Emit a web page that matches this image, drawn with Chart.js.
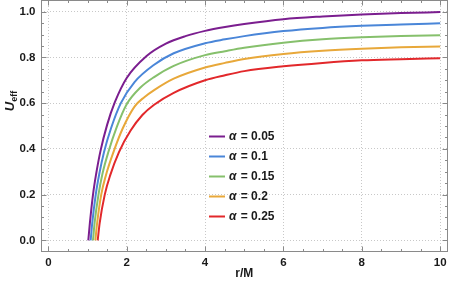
<!DOCTYPE html>
<html><head><meta charset="utf-8">
<script src="https://cdn.jsdelivr.net/npm/chart.js@4/dist/chart.umd.min.js"></script>
<style>html,body{margin:0;padding:0;background:#fff}</style>
</head><body>
<canvas id="c" width="449" height="290"></canvas>
<script>
// ---- data ----
const alphaLabels = ['0.05', '0.1', '0.15', '0.2', '0.25'];

const rA = [1.02, 1.06, 1.14, 1.22, 1.33, 1.5, 1.7, 2.0, 2.5, 3.0, 3.5, 4.0, 4.51, 5, 6, 7, 8, 9, 10];
const uA = [0, 0.075, 0.2, 0.29, 0.39, 0.505, 0.605, 0.71, 0.805, 0.86, 0.893, 0.916, 0.933, 0.946, 0.967, 0.979, 0.988, 0.994, 0.998];

const rB = [1.08, 1.12, 1.21, 1.3, 1.42, 1.6, 1.85, 2.2, 2.7, 3.2, 4.0, 4.51, 5, 6, 7, 8, 9, 10];
const uB = [0, 0.075, 0.2, 0.29, 0.385, 0.49, 0.6, 0.692, 0.768, 0.818, 0.862, 0.879, 0.893, 0.915, 0.929, 0.938, 0.944, 0.949];

const rC = [1.14, 1.18, 1.28, 1.38, 1.53, 1.75, 2.0, 2.35, 2.7, 3.2, 4.0, 4.51, 5, 6, 7, 8, 9, 10];
const uC = [0, 0.075, 0.2, 0.29, 0.385, 0.497, 0.595, 0.668, 0.714, 0.763, 0.81, 0.827, 0.842, 0.864, 0.879, 0.888, 0.894, 0.897];

const rD = [1.20, 1.245, 1.35, 1.47, 1.66, 1.9, 2.2, 2.45, 2.7, 3.2, 4.0, 4.51, 5, 6, 7, 8, 9, 10];
const uD = [0, 0.075, 0.2, 0.285, 0.385, 0.49, 0.585, 0.626, 0.657, 0.707, 0.756, 0.776, 0.793, 0.815, 0.829, 0.838, 0.844, 0.848];

const rE = [1.26, 1.31, 1.44, 1.58, 1.8, 2.1, 2.4, 2.7, 3.2, 4.0, 4.51, 5, 6, 7, 8, 9, 10];
const uE = [0, 0.075, 0.2, 0.285, 0.385, 0.48, 0.548, 0.593, 0.645, 0.70, 0.722, 0.74, 0.761, 0.776, 0.787, 0.792, 0.796];

const seriesR = [rA, rB, rC, rD, rE];
const seriesU = [uA, uB, uC, uD, uE];

const xTicks = [0, 2, 4, 6, 8, 10];
const xTickLabels = ['0', '2', '4', '6', '8', '10'];
const yTicks = [0, 0.2, 0.4, 0.6, 0.8, 1.0];
const yTickLabels = ['0.0', '0.2', '0.4', '0.6', '0.8', '1.0'];

// ---- styles ----
const colors = ['#7b1e8f', '#4a86d8', '#86c06c', '#e8a83a', '#e2282b'];
const FONT = '"Liberation Sans", Arial, sans-serif';
const frameColor = '#8a8a8a';

const datasets = seriesR.map((rs, i) => ({
  label: 'α = ' + alphaLabels[i],
  data: rs.map((r, k) => ({x: r, y: seriesU[i][k]})),
  borderColor: colors[i],
  backgroundColor: colors[i],
  borderWidth: 2,
  pointRadius: 0,
  showLine: true,
  cubicInterpolationMode: 'monotone',
  fill: false
}));

const framePlugin = {
  id: 'frame',
  afterDatasetsDraw(chart) {
    const {ctx, chartArea: a, scales: {x, y}} = chart;
    ctx.save();
    ctx.strokeStyle = frameColor;
    ctx.lineWidth = 1;
    const L = Math.round(a.left) + 0.5, R = Math.round(a.right) - 0.5;
    const T = Math.round(a.top) + 0.5, B = Math.round(a.bottom) - 0.5;
    ctx.strokeRect(L, T, R - L, B - T);
    ctx.beginPath();
    for (let v = 0; v <= 10.001; v += 0.5) {
      const px = Math.round(x.getPixelForValue(v)) + 0.5;
      const len = (Math.abs(v / 2 - Math.round(v / 2)) < 1e-6) ? 5 : 2.5;
      ctx.moveTo(px, B); ctx.lineTo(px, B - len);
      ctx.moveTo(px, T); ctx.lineTo(px, T + len);
    }
    for (let v = 0; v <= 1.0001; v += 0.05) {
      const py = Math.round(y.getPixelForValue(v)) + 0.5;
      const len = (Math.abs(v / 0.2 - Math.round(v / 0.2)) < 1e-6) ? 5 : 2.5;
      ctx.moveTo(L, py); ctx.lineTo(L + len, py);
      ctx.moveTo(R, py); ctx.lineTo(R - len, py);
    }
    ctx.stroke();
    ctx.restore();
  },
  afterDraw(chart) {
    const {ctx, chartArea: a} = chart;
    ctx.save();
    ctx.fillStyle = '#1a1a1a';
    ctx.font = 'bold 12px ' + FONT;
    ctx.textAlign = 'center';
    ctx.textBaseline = 'middle';
    ctx.fillText('r/M', (a.left + a.right) / 2, 274);
    ctx.translate(9, 101);
    ctx.rotate(-Math.PI / 2);
    ctx.textAlign = 'left';
    ctx.textBaseline = 'alphabetic';
    ctx.font = 'italic bold 13px ' + FONT;
    const wU = ctx.measureText('U').width;
    ctx.font = 'bold 9px ' + FONT;
    const wE = ctx.measureText('eff').width;
    const x0 = -(wU + wE) / 2;
    ctx.font = 'italic bold 13px ' + FONT;
    ctx.fillText('U', x0, 5);
    ctx.font = 'bold 9px ' + FONT;
    ctx.fillText('eff', x0 + wU, 8);
    ctx.restore();

    ctx.save();
    chart.data.datasets.forEach((ds, i) => {
      const yy = 136.5 + i * 20;
      ctx.strokeStyle = ds.borderColor;
      ctx.lineWidth = 2;
      ctx.beginPath();
      ctx.moveTo(209, yy); ctx.lineTo(225, yy);
      ctx.stroke();
      ctx.fillStyle = '#1a1a1a';
      ctx.textBaseline = 'middle';
      ctx.textAlign = 'left';
      ctx.font = 'italic bold 12px ' + FONT;
      ctx.fillText('α', 229, yy + 0.5);
      const wa = ctx.measureText('α').width;
      ctx.font = 'bold 12px ' + FONT;
      ctx.fillText(' = ' + alphaLabels[i], 229 + wa + 1, yy + 0.5);
    });
    ctx.restore();
  }
};

new Chart(document.getElementById('c'), {
  type: 'scatter',
  data: {datasets},
  plugins: [framePlugin],
  options: {
    responsive: false,
    animation: false,
    layout: {padding: {left: 0, right: 1, top: 0, bottom: 0}},
    plugins: {legend: {display: false}, tooltip: {enabled: false}},
    scales: {
      x: {
        type: 'linear', min: -0.2, max: 10.2,
        afterFit: s => { s.height = 38; s.paddingLeft = 0; s.paddingRight = 0; },
        afterBuildTicks: s => { s.ticks = xTicks.map(v => ({value: v})); },
        ticks: {
          callback: (v) => { const i = xTicks.indexOf(v); return i >= 0 ? xTickLabels[i] : ''; },
          font: {family: FONT, size: 11.5, weight: 'bold'}, color: '#1a1a1a', padding: 4, maxRotation: 0
        },
        grid: {color: '#c8c8c8', lineWidth: 1, tickLength: 0, drawTicks: false},
        border: {display: false, dash: [1, 2]}
      },
      y: {
        type: 'linear', min: -0.051, max: 1.051,
        afterFit: s => { s.width = 40.5; s.paddingTop = 0; s.paddingBottom = 0; },
        afterBuildTicks: s => { s.ticks = yTicks.map(v => ({value: v})); },
        ticks: {
          callback: (v) => { const i = yTicks.findIndex(t => Math.abs(t - v) < 1e-9); return i >= 0 ? yTickLabels[i] : ''; },
          font: {family: FONT, size: 11.5, weight: 'bold'}, color: '#1a1a1a', padding: 5
        },
        grid: {color: '#c8c8c8', lineWidth: 1, drawTicks: false},
        border: {display: false, dash: [1, 2]}
      }
    }
  }
});
</script>
</body></html>
